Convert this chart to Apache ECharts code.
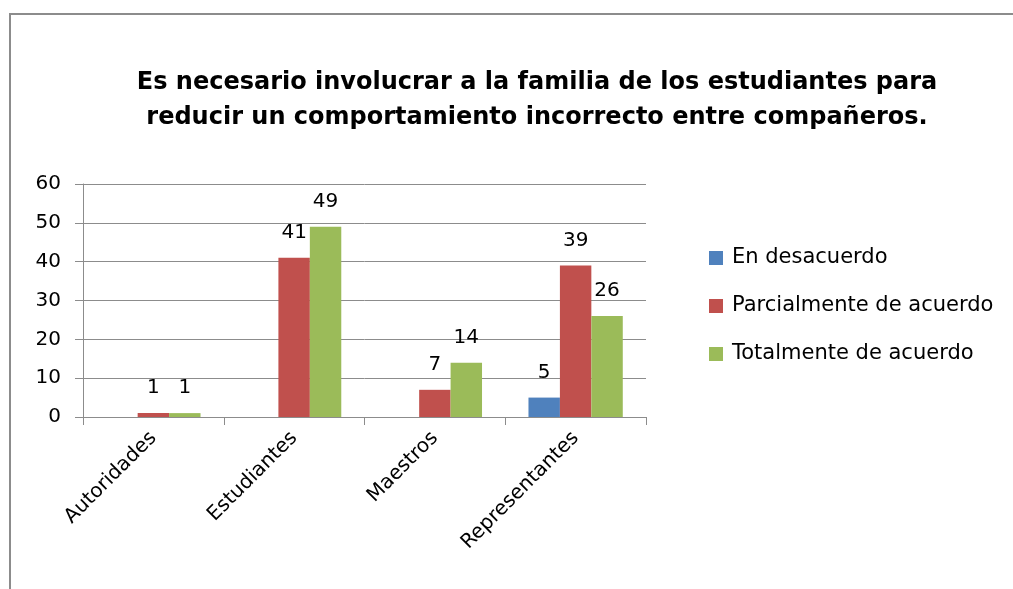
<!DOCTYPE html>
<html>
<head>
<meta charset="utf-8">
<script src="https://cdn.jsdelivr.net/npm/echarts@6/dist/echarts.min.js"></script>
<style>
  html, body { margin: 0; padding: 0; background: #fff; }
  #chart { width: 1013px; height: 589px; }
</style>
</head>
<body>
<div id="chart"></div>
<script>
// categories and series values
const categories = ["Autoridades", "Estudiantes", "Maestros", "Representantes"];
const desacuerdo = [0, 0, 0, 5];
const parcial = [1, 41, 7, 39];
const total = [1, 49, 14, 26];
const seriesNames = ["En desacuerdo", "Parcialmente de acuerdo", "Totalmente de acuerdo"];
const colors = ["#4F81BD", "#C0504D", "#9BBB59"];

const labelFont = "DejaVu Sans";

const chart = echarts.init(document.getElementById("chart"));

// hide labels on empty bars like the original
const makeSeries = (name, data, color) => ({
  name: name,
  type: "bar",
  data: data,
  barGap: "0%",
  barCategoryGap: "33%",
  itemStyle: { color: color },
  label: {
    show: true,
    position: "top",
    distance: 15,
    color: "#000",
    fontFamily: labelFont,
    fontSize: 20,
    formatter: (p) => (p.value > 0 ? p.value : "")
  }
});

const option = {
  animation: false,
  backgroundColor: "#fff",
  title: {
    text: "Es necesario involucrar a la familia de los estudiantes para\nreducir un comportamiento incorrecto entre compañeros.",
    left: 532,
    top: 60,
    textAlign: "center",
    textStyle: {
      fontFamily: "DejaVu Sans",
      fontWeight: "bold",
      fontSize: 24,
      lineHeight: 35,
      color: "#000"
    }
  },
  graphic: [{
    type: "rect",
    shape: { x: 10, y: 14, width: 1100, height: 700 },
    style: { fill: null, stroke: "#8c8c8c", lineWidth: 2 },
    silent: true
  }],
  legend: {
    orient: "vertical",
    left: 704,
    top: 242,
    itemWidth: 14,
    itemHeight: 14,
    itemGap: 26,
    icon: "rect",
    data: seriesNames,
    textStyle: {
      fontFamily: labelFont,
      fontSize: 21,
      lineHeight: 22,
      color: "#000",
      padding: [0, 0, 0, 4]
    }
  },
  grid: { left: 83, right: 367, top: 184, bottom: 172 },
  xAxis: {
    type: "category",
    data: categories,
    axisLine: { lineStyle: { color: "#8c8c8c" } },
    axisTick: { show: true, length: 8, lineStyle: { color: "#8c8c8c" } },
    axisLabel: {
      rotate: 45,
      margin: 18,
      color: "#000",
      fontFamily: labelFont,
      fontSize: 20
    }
  },
  yAxis: {
    type: "value",
    min: 0,
    max: 60,
    interval: 10,
    axisLine: { show: true, lineStyle: { color: "#8c8c8c" } },
    axisTick: { show: true, length: 8, lineStyle: { color: "#8c8c8c" } },
    splitLine: { lineStyle: { color: "#8c8c8c" } },
    axisLabel: {
      margin: 22,
      color: "#000",
      fontFamily: labelFont,
      fontSize: 20
    }
  },
  series: [
    makeSeries(seriesNames[0], desacuerdo, colors[0]),
    makeSeries(seriesNames[1], parcial, colors[1]),
    makeSeries(seriesNames[2], total, colors[2])
  ]
};

chart.setOption(option);
</script>
</body>
</html>
